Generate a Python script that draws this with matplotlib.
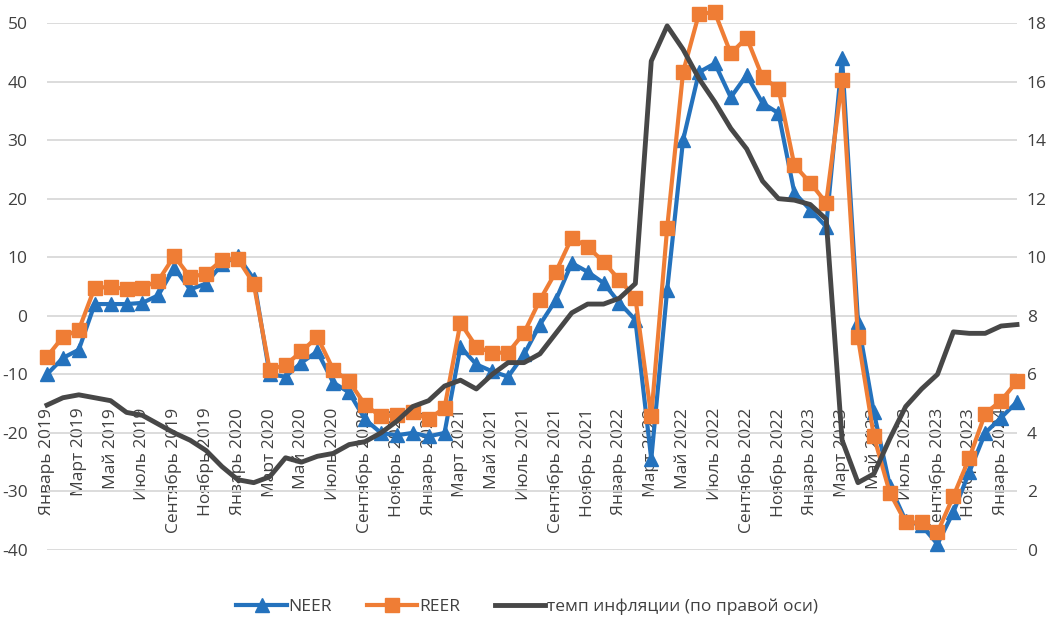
import matplotlib
matplotlib.use("Agg")
import matplotlib.pyplot as plt

plt.rcParams['font.family'] = ['Open Sans', 'DejaVu Sans']
plt.rcParams['axes.unicode_minus'] = False

# === ДАННЫЕ (январь 2019 - февраль 2024, помесячно) ===
years = [2019, 2020, 2021, 2022, 2023, 2024]
month_names = ['Январь', 'Март', 'Май', 'Июль', 'Сентябрь', 'Ноябрь']

neer = [-10.0, -7.2, -5.8, 2.0, 2.0, 2.0, 2.2, 3.5, 8.2, 4.5, 5.5, 8.8,
        10.2, 6.3, -10.0, -10.4, -8.0, -6.1, -11.4, -13.1, -17.7, -20.0, -20.4, -20.0,
        -20.6, -20.0, -5.3, -8.3, -9.5, -10.4, -6.6, -1.5, 2.7, 9.0, 7.5, 5.6,
        2.2, -0.7, -24.5, 4.4, 30.0, 41.6, 43.1, 37.3, 41.1, 36.3, 34.6, 21.0,
        18.1, 15.2, 44.0, -1.0, -16.5, -29.0, -35.0, -35.8, -39.0, -33.5, -26.7, -20.0,
        -17.4, -14.7]

reer = [-7.0, -3.6, -2.4, 4.8, 4.9, 4.6, 4.8, 6.0, 10.2, 6.6, 7.2, 9.5,
        9.7, 5.5, -9.2, -8.4, -6.1, -3.6, -9.2, -11.2, -15.2, -17.2, -16.9, -16.4,
        -17.7, -15.7, -1.2, -5.3, -6.3, -6.3, -2.9, 2.7, 7.5, 13.3, 11.8, 9.2,
        6.1, 3.1, -17.2, 15.0, 41.6, 51.6, 51.8, 44.8, 47.5, 40.7, 38.8, 25.7,
        22.7, 19.3, 40.2, -3.7, -20.6, -30.2, -35.3, -35.3, -37.0, -30.8, -24.3, -16.7,
        -14.5, -11.2]

infl = [4.95, 5.2, 5.3, 5.2, 5.1, 4.7, 4.6, 4.3, 4.0, 3.75, 3.4, 2.85,
        2.4, 2.3, 2.5, 3.15, 3.0, 3.2, 3.3, 3.6, 3.7, 4.0, 4.4, 4.9,
        5.1, 5.6, 5.8, 5.5, 6.0, 6.4, 6.4, 6.7, 7.4, 8.1, 8.4, 8.4,
        8.6, 9.1, 16.7, 17.9, 17.1, 16.1, 15.3, 14.4, 13.7, 12.6, 12.0, 11.95,
        11.8, 11.3, 3.75, 2.3, 2.6, 3.8, 4.9, 5.5, 6.0, 7.45, 7.4, 7.4,
        7.65, 7.7]

x = list(range(len(neer)))

tick_pos = []
tick_lab = []
for i in range(0, len(neer), 2):
    tick_pos.append(i)
    tick_lab.append(f"{month_names[(i % 12) // 2]} {years[i // 12]}")

# === ГРАФИК ===
blue = '#2472BD'
orange = '#EF7D35'
gray = '#474747'
txt = '#404040'

fig = plt.figure(figsize=(10.54, 6.22), dpi=100)
ax = fig.add_axes([47/1054, 1 - 550/622, (1017 - 47)/1054, (550 - 23)/622])
ax2 = ax.twinx()

ax.plot(x, neer, color=blue, lw=3, marker='^', ms=10, label='NEER', clip_on=False)
ax.plot(x, reer, color=orange, lw=3, marker='s', ms=10, label='REER', clip_on=False)
ax2.plot(x, infl, color=gray, lw=3.5, label='темп инфляции (по правой оси)', clip_on=False)

ax.set_xlim(0, len(neer) - 1)
ax.set_ylim(-40, 50)
ax2.set_ylim(0, 18)

ax.set_yticks(range(-40, 51, 10))
ax.set_yticklabels([str(v) for v in range(-40, 51, 10)])
ax2.set_yticks(range(0, 19, 2))
ax2.set_yticklabels([str(v) for v in range(0, 19, 2)])

ax.grid(axis='y', color='#D9D9D9', lw=1.3)
ax.set_axisbelow(True)

for a in (ax, ax2):
    for s in a.spines.values():
        s.set_visible(False)

# горизонтальная ось пересекает левую ось на -15
ax.spines['bottom'].set_position(('data', -15))
ax.set_xticks(tick_pos)
ax.set_xticklabels(tick_lab, rotation=90)

ax.tick_params(axis='x', length=0, pad=3, labelsize=12.5, labelcolor=txt)
ax.tick_params(axis='y', length=0, pad=14, labelsize=12.5, labelcolor=txt)
ax2.tick_params(axis='y', length=0, pad=7, labelsize=12.5, labelcolor=txt)

h1, l1 = ax.get_legend_handles_labels()
h2, l2 = ax2.get_legend_handles_labels()
fig.legend(h1 + h2, l1 + l2, loc='center', bbox_to_anchor=(0.5, 1 - 607/622),
           ncol=3, frameon=False, fontsize=12.5, labelcolor=txt,
           handlelength=2.9, handletextpad=0.1, columnspacing=2.0)

fig.savefig('out.png', dpi=100)
